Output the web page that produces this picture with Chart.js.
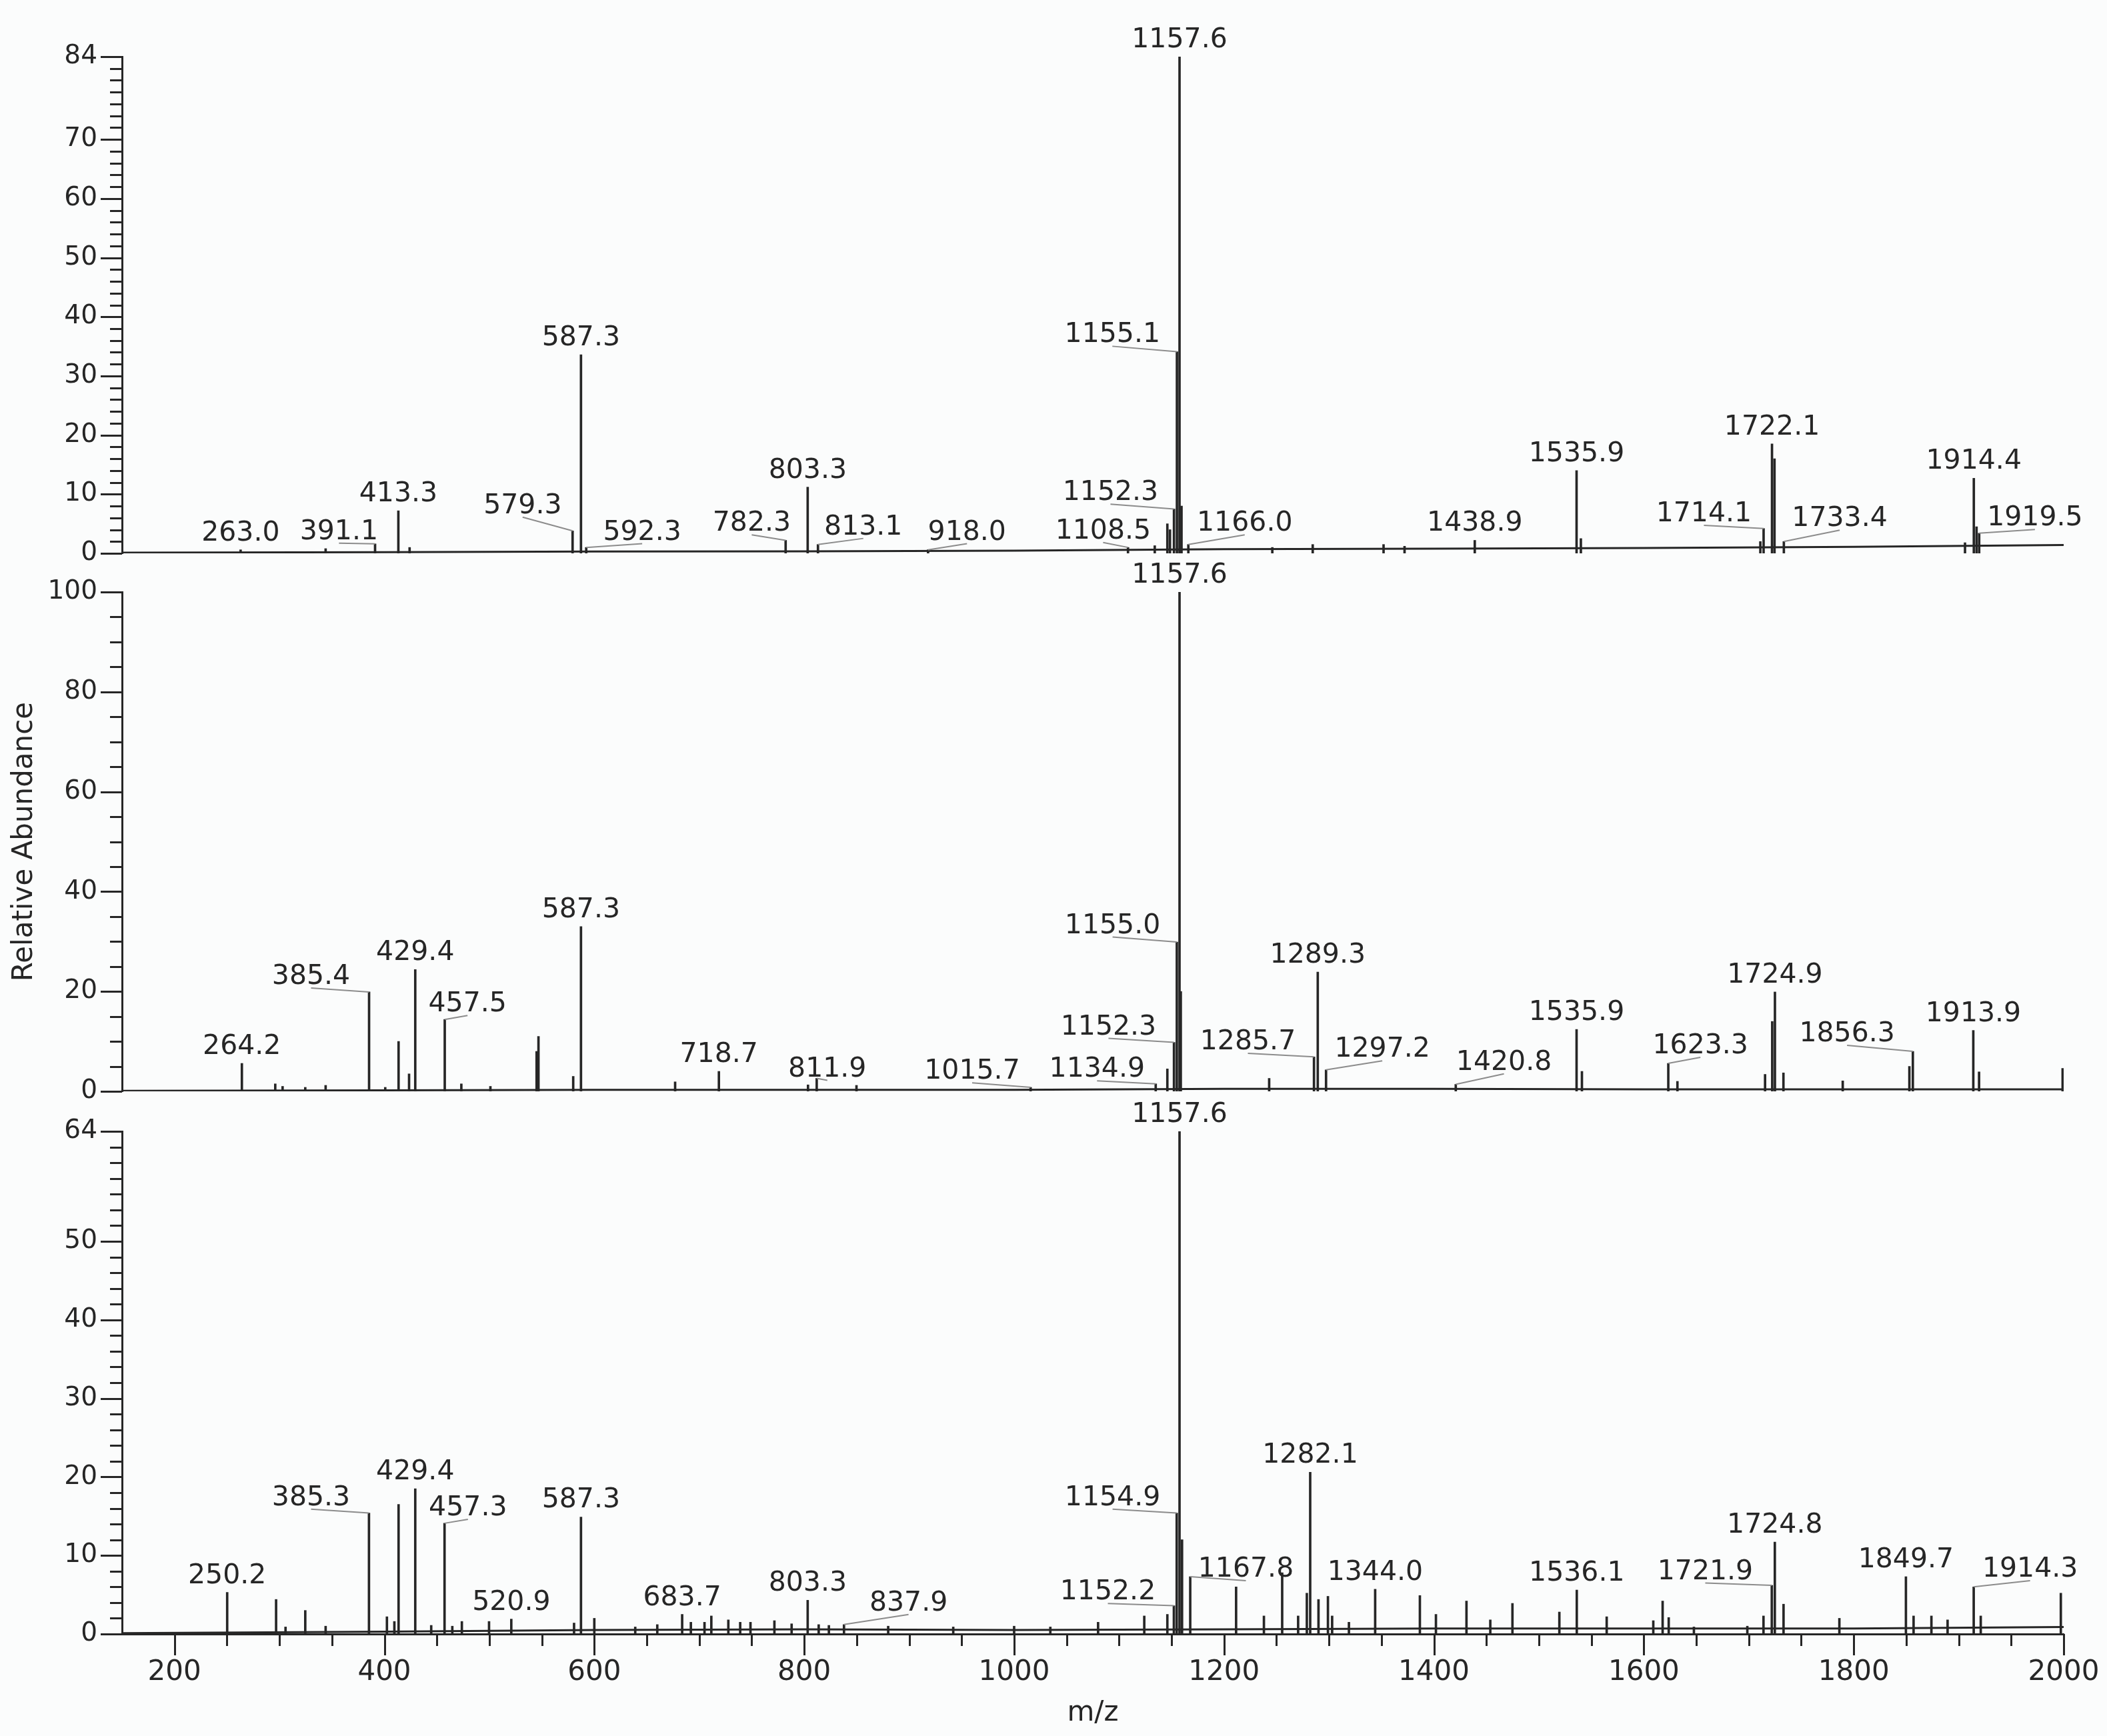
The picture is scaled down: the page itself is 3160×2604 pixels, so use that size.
<!DOCTYPE html>
<html lang="en">
<head>
<meta charset="utf-8">
<title>Mass spectra</title>
<script src="https://cdn.jsdelivr.net/npm/chart.js@4.4.1/dist/chart.umd.min.js"></script>
<style>
  html, body { margin: 0; padding: 0; background: #fbfcfc; }
  #page { position: relative; width: 3160px; height: 2604px; overflow: hidden; }
  canvas { position: absolute; left: 0; }
  #top { top: 0; }
  #mid { top: 820px; }
  #bottom { top: 1640px; }
</style>
</head>
<body>
<div id="page">
  <canvas id="top" width="3160" height="860"></canvas>
  <canvas id="mid" width="3160" height="840"></canvas>
  <canvas id="bottom" width="3160" height="964"></canvas>
</div>
<script>
//! DATA

// shared m/z axis
const xMin = 150;
const xMax = 2000;
const xTickLabels = [200, 400, 600, 800, 1000, 1200, 1400, 1600, 1800, 2000];

// top spectrum - labelled peaks
const topPeakMz = [263.0, 391.1, 413.3, 579.3, 587.3, 592.3, 782.3, 803.3, 813.1, 918.0, 1108.5, 1152.3, 1155.1, 1157.6, 1166.0, 1438.9, 1535.9, 1714.1, 1722.1, 1733.4, 1914.4, 1919.5];
const topPeakAbund = [0.6, 1.6, 7.2, 3.8, 33.6, 1.0, 2.2, 11.2, 1.5, 0.6, 1.0, 7.5, 34.1, 84, 1.5, 2.2, 14.0, 4.2, 18.5, 2.0, 12.7, 3.4];
// top spectrum - unlabelled peaks
const topMinorMz = [344.0, 424.0, 1134.0, 1146.0, 1148.5, 1159.5, 1246.0, 1284.5, 1352.0, 1372.0, 1540.0, 1711.0, 1724.5, 1906.0, 1917.0];
const topMinorAbund = [0.8, 1.0, 1.3, 5.0, 4.0, 8.0, 1.0, 1.5, 1.5, 1.2, 2.5, 2.0, 16.0, 1.8, 4.5];
// top spectrum - noise floor
const topBaseMz = [150, 400, 600, 800, 1000, 1200, 1400, 1600, 1800, 2000];
const topBaseAbund = [0.1, 0.2, 0.3, 0.35, 0.45, 0.7, 0.8, 0.9, 1.1, 1.4];
const topYMax = 84;
const topYLabels = [0, 10, 20, 30, 40, 50, 60, 70, 84];

// middle spectrum
const midPeakMz = [264.2, 385.4, 429.4, 457.5, 587.3, 718.7, 811.9, 1015.7, 1134.9, 1152.3, 1155.0, 1157.6, 1285.7, 1289.3, 1297.2, 1420.8, 1535.9, 1623.3, 1724.9, 1856.3, 1913.9];
const midPeakAbund = [5.6, 19.9, 24.4, 14.4, 33.0, 4.0, 2.6, 0.8, 1.5, 9.8, 29.9, 100, 6.9, 23.9, 4.3, 1.4, 12.4, 5.6, 19.9, 8.0, 12.2];
const midMinorMz = [296.0, 303.0, 324.6, 344.0, 400.8, 413.5, 423.5, 473.3, 501.0, 545.0, 546.8, 579.9, 677.0, 803.6, 849.8, 1146.0, 1158.8, 1243.0, 1541.0, 1632.0, 1715.5, 1722.3, 1733.0, 1789.5, 1853.0, 1919.4, 1999.0];
const midMinorAbund = [1.5, 1.0, 0.8, 1.2, 0.8, 10.0, 3.5, 1.5, 1.0, 8.0, 11.0, 3.0, 1.9, 1.3, 1.2, 4.5, 20.0, 2.6, 4.0, 2.0, 3.4, 14.0, 3.7, 2.1, 5.0, 3.9, 4.6];
const midBaseMz = [150, 400, 600, 800, 1000, 1200, 1400, 1600, 1800, 2000];
const midBaseAbund = [0.1, 0.2, 0.3, 0.3, 0.3, 0.5, 0.5, 0.4, 0.4, 0.4];
const midYMax = 100;
const midYLabels = [0, 20, 40, 60, 80, 100];

// bottom spectrum
const botPeakMz = [250.2, 385.3, 429.4, 457.3, 520.9, 587.3, 683.7, 803.3, 837.9, 1152.2, 1154.9, 1157.6, 1167.8, 1282.1, 1344.0, 1536.1, 1721.9, 1724.8, 1849.7, 1914.3];
const botPeakAbund = [5.3, 15.4, 18.5, 14.1, 1.9, 14.9, 2.5, 4.3, 1.2, 3.6, 15.4, 64, 7.3, 20.6, 5.7, 5.6, 6.2, 11.7, 7.3, 6.0];
const botMinorMz = [296.8, 305.8, 324.6, 344.0, 402.4, 409.5, 413.5, 444.6, 464.7, 473.8, 499.7, 580.7, 600.0, 639.0, 660.0, 692.0, 705.0, 711.5, 727.7, 739.0, 748.8, 771.6, 788.0, 813.8, 823.5, 880.0, 942.0, 1000.0, 1034.5, 1080.0, 1124.0, 1146.0, 1160.0, 1211.5, 1238.0, 1255.4, 1270.6, 1278.9, 1290.0, 1299.0, 1303.0, 1319.0, 1386.6, 1401.9, 1431.0, 1453.7, 1474.8, 1519.5, 1564.6, 1609.0, 1617.9, 1623.7, 1647.7, 1698.6, 1714.0, 1733.1, 1786.3, 1857.0, 1874.0, 1889.4, 1921.0, 1997.3];
const botMinorAbund = [4.4, 0.9, 3.0, 1.0, 2.2, 1.6, 16.5, 1.1, 1.0, 1.6, 1.6, 1.4, 2.0, 0.9, 1.2, 1.5, 1.5, 2.3, 1.8, 1.5, 1.5, 1.7, 1.3, 1.2, 1.1, 1.0, 0.9, 1.0, 0.9, 1.5, 2.3, 2.5, 12.0, 6.0, 2.3, 7.8, 2.3, 5.2, 4.4, 4.8, 2.3, 1.5, 4.9, 2.5, 4.2, 1.8, 3.9, 2.8, 2.2, 1.7, 4.2, 2.1, 0.9, 1.0, 2.3, 3.8, 2.0, 2.3, 2.3, 1.8, 2.3, 5.2];
const botBaseMz = [150, 400, 600, 800, 1000, 1200, 1400, 1600, 1800, 2000];
const botBaseAbund = [0.1, 0.3, 0.5, 0.6, 0.5, 0.6, 0.7, 0.7, 0.7, 0.9];
const botYMax = 64;
const botYLabels = [0, 10, 20, 30, 40, 50, 64];

//! LAYOUT

// where a peak label was pushed aside: [m/z, abundance] of the text foot, null = straight above
const topTags = [null, [356.7, 2.4], null, [531.7, 6.8], null, [645.6, 2.3], [750, 3.8], null, [856.3, 3.2], [955.1, 2.3], [1084.8, 2.5], [1091.8, 9.0], [1093.6, 35.7], null, [1219.7, 3.8], null, null, [1657.2, 5.4], null, [1786.6, 4.6], null, [1972.6, 4.7]];
const midTags = [null, [330.1, 21.5], null, [479.2, 16.0], null, null, [822, 3.0], [960, 2.5], [1079, 2.9], [1089.9, 11.4], [1093.8, 31.7], null, [1222.7, 8.4], null, [1350.8, 6.9], [1466.7, 4.3], null, [1653.9, 7.6], null, [1793.6, 10.0], null];
const botTags = [null, [330.1, 16.4], null, [479.6, 15.1], null, null, null, null, [899.4, 3.0], [1089.3, 4.4], [1093.8, 16.4], null, [1220.8, 7.3], null, null, null, [1658.5, 7.0], null, null, [1968, 7.3]];

const INK = "#262626";
const LEADER = "#8c8c8c";
const FONT = '"DejaVu Sans", sans-serif';

Chart.defaults.font.family = FONT;
Chart.defaults.color = INK;

//! FUNCTIONS

// tick marks, peak labels and leader lines
const spectrumMarks = {
  id: "spectrumMarks",
  afterDatasetsDraw(chart, args, opts) {
    const { ctx, chartArea } = chart;
    const xs = chart.scales.x;
    const ys = chart.scales.y;
    ctx.save();
    ctx.strokeStyle = INK;
    ctx.lineWidth = 3;

    // y ticks: long ones where there is a number
    ys.ticks.forEach(t => {
      const len = opts.yLabels.includes(t.value) ? 32 : 18;
      const py = Math.round(ys.getPixelForValue(t.value)) + 0.5;
      ctx.beginPath();
      ctx.moveTo(chartArea.left - len, py);
      ctx.lineTo(chartArea.left, py);
      ctx.stroke();
    });

    // m/z ticks only under the last panel
    if (opts.xTicks) {
      xs.ticks.forEach(t => {
        if (t.value <= xMin) return;
        const len = xTickLabels.includes(t.value) ? 32 : 18;
        const px = Math.round(xs.getPixelForValue(t.value)) + 0.5;
        ctx.beginPath();
        ctx.moveTo(px, chartArea.bottom);
        ctx.lineTo(px, chartArea.bottom + len);
        ctx.stroke();
      });
    }

    ctx.font = "41px " + FONT;
    ctx.fillStyle = INK;
    ctx.textAlign = "center";
    ctx.textBaseline = "alphabetic";
    opts.mz.forEach((m, i) => {
      const text = m.toFixed(1);
      const px = xs.getPixelForValue(m);
      const py = ys.getPixelForValue(Math.min(opts.abund[i], ys.max));
      const tag = opts.tags[i];
      if (!tag) {
        ctx.fillText(text, px, py - 14);
        return;
      }
      const tx = xs.getPixelForValue(tag[0]);
      const ty = ys.getPixelForValue(tag[1]);
      ctx.fillText(text, tx, ty);
      ctx.strokeStyle = LEADER;
      ctx.lineWidth = 2;
      ctx.beginPath();
      ctx.moveTo(tx, ty + 6);
      ctx.lineTo(px, py);
      ctx.stroke();
    });
    ctx.restore();
  }
};

function toPoints(mzList, abundList) {
  return mzList.map((m, i) => ({ x: m, y: abundList[i] }));
}

function drawPanel(id, p) {
  const peaks = toPoints(p.peakMz, p.peakAbund)
    .concat(toPoints(p.minorMz, p.minorAbund))
    .sort((a, b) => a.x - b.x);
  const base = toPoints(p.baseMz, p.baseAbund);

  const xAxis = {
    type: "linear",
    min: xMin,
    max: xMax,
    offset: false,
    display: false
  };
  if (p.last) {
    Object.assign(xAxis, {
      display: true,
      grid: { display: false, drawTicks: false },
      border: { display: true, color: INK, width: 3 },
      ticks: {
        stepSize: 50,
        autoSkip: false,
        maxRotation: 0,
        padding: 33,
        color: INK,
        font: { size: 42 },
        callback: v => (xTickLabels.includes(v) ? v : "")
      },
      title: { display: true, text: "m/z", color: INK, font: { size: 42 }, padding: { top: 0, bottom: 9 } },
      // keep the plot edge fixed, the end labels may hang over
      afterFit: s => {
        s.height = 153;
        s.paddingLeft = 0;
        s.paddingRight = 0;
      }
    });
  }

  const yAxis = {
    min: 0,
    max: p.yMax,
    grid: { display: false, drawTicks: false },
    border: { display: true, color: INK, width: 3 },
    ticks: {
      stepSize: p.yStep,
      autoSkip: false,
      padding: 37,
      color: INK,
      font: { size: 39 },
      callback: v => (p.yLabels.includes(v) ? v : "")
    },
    title: {
      display: !!p.yTitle,
      text: p.yTitle || "",
      color: INK,
      font: { size: 42 },
      padding: { top: 12, bottom: 0 }
    },
    afterFit: s => {
      s.width = 183;
      s.paddingTop = 0;
      s.paddingBottom = 0;
    }
  };

  return new Chart(document.getElementById(id), {
    type: "bar",
    data: {
      datasets: [
        { type: "line", data: base, borderColor: INK, borderWidth: 3, pointRadius: 0, tension: 0, order: 0 },
        { data: peaks, backgroundColor: INK, borderWidth: 0, barThickness: 3, order: 1 }
      ]
    },
    options: {
      responsive: false,
      animation: false,
      events: [],
      layout: { padding: p.padding },
      scales: { x: xAxis, y: yAxis },
      plugins: {
        legend: { display: false },
        tooltip: { enabled: false },
        spectrumMarks: {
          mz: p.peakMz,
          abund: p.peakAbund,
          tags: p.tags,
          yLabels: p.yLabels,
          xTicks: !!p.last
        }
      }
    },
    plugins: [spectrumMarks]
  });
}

//! CHARTS

drawPanel("top", {
  peakMz: topPeakMz, peakAbund: topPeakAbund,
  minorMz: topMinorMz, minorAbund: topMinorAbund,
  baseMz: topBaseMz, baseAbund: topBaseAbund,
  tags: topTags, yMax: topYMax, yStep: 2, yLabels: topYLabels,
  padding: { top: 85, bottom: 30, left: 0, right: 65 }
});

drawPanel("mid", {
  peakMz: midPeakMz, peakAbund: midPeakAbund,
  minorMz: midMinorMz, minorAbund: midMinorAbund,
  baseMz: midBaseMz, baseAbund: midBaseAbund,
  tags: midTags, yMax: midYMax, yStep: 5, yLabels: midYLabels,
  yTitle: "Relative Abundance",
  padding: { top: 68, bottom: 23, left: 0, right: 65 }
});

drawPanel("bottom", {
  peakMz: botPeakMz, peakAbund: botPeakAbund,
  minorMz: botMinorMz, minorAbund: botMinorAbund,
  baseMz: botBaseMz, baseAbund: botBaseAbund,
  tags: botTags, yMax: botYMax, yStep: 2, yLabels: botYLabels,
  last: true,
  padding: { top: 57, bottom: 0, left: 0, right: 65 }
});
</script>
</body>
</html>
